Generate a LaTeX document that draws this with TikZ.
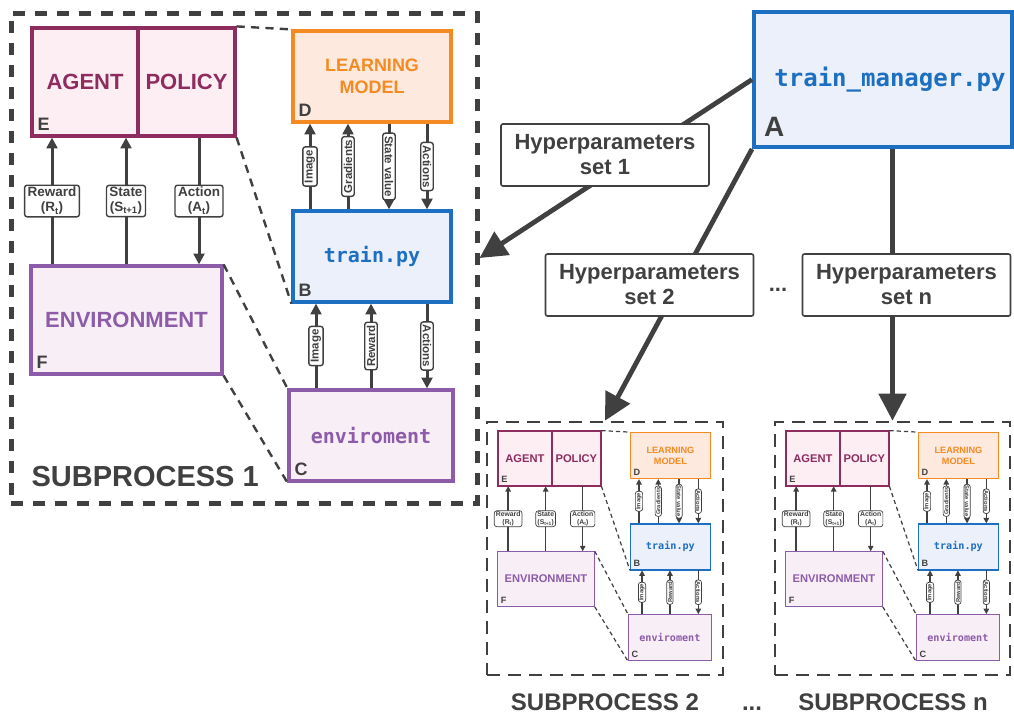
\documentclass[tikz,border=0pt]{standalone}
\usepackage{fontspec}
\setmainfont{Liberation Sans}
\setmonofont{DejaVu Sans Mono}
\usetikzlibrary{arrows.meta}

\definecolor{agentc}{HTML}{8E2B5F}
\definecolor{agentf}{HTML}{FCEEF3}
\definecolor{modelc}{HTML}{F38A22}
\definecolor{modelf}{HTML}{FDE9DD}
\definecolor{trainc}{HTML}{1D6FC1}
\definecolor{trainf}{HTML}{EBF0FB}
\definecolor{envc}{HTML}{8D5CA9}
\definecolor{envf}{HTML}{F8EEF6}
\definecolor{inkc}{HTML}{404040}

% line scale of one subprocess copy
\def\sw{1}

\tikzset{
  agentbox/.style={draw=agentc, fill=agentf, line width=3.2pt*\sw, text=agentc, font=\bfseries\fontsize{22}{26}\selectfont},
  modelbox/.style={draw=modelc, fill=modelf, line width=3.2pt*\sw, text=modelc, align=center, font=\bfseries\fontsize{18}{22}\selectfont},
  trainbox/.style={draw=trainc, fill=trainf, line width=3.2pt*\sw, text=trainc, font=\ttfamily\bfseries\fontsize{20}{24}\selectfont},
  envbox/.style={draw=envc, fill=envf, line width=3.2pt*\sw, text=envc, font=\bfseries\fontsize{22}{26}\selectfont},
  envcode/.style={envbox, font=\ttfamily\bfseries\fontsize{20}{24}\selectfont},
  lettr/.style={anchor=south west, inner sep=7pt, text=inkc, font=\bfseries\fontsize{18}{18}\selectfont},
  tag/.style={draw=inkc, fill=white, line width=1.4pt*\sw, rounded corners=2.5pt, inner xsep=3pt, inner ysep=2pt, align=center, text=inkc, font=\bfseries\fontsize{11.5}{13}\selectfont},
  tagbig/.style={tag, font=\bfseries\fontsize{13.5}{15}\selectfont},
  flow/.style={inkc, line width=3pt*\sw, -{Triangle[length=0pt 3.6,width=0pt 3.6]}},
  zoomline/.style={inkc, line width=2.4pt*\sw, dash pattern=on 3.4\pgflinewidth off 2.6\pgflinewidth},
  procframe/.style={draw=inkc, line width=5pt, dash pattern=on 12pt off 10pt},
  subframe/.style={procframe, line width=2.6pt, dash pattern=on 13pt off 8pt},
  mainbox/.style={draw=trainc, fill=trainf, line width=4pt, text=trainc, font=\ttfamily\bfseries\fontsize{24}{28}\selectfont},
  hyperbox/.style={draw=inkc, fill=white, line width=1.6pt, rounded corners=2pt, align=center, text=inkc, minimum width=208pt, minimum height=62pt, font=\bfseries\fontsize{22}{25}\selectfont},
  bigflow/.style={inkc, line width=4.8pt, -{Triangle[length=27pt,width=27pt]}},
  title/.style={text=inkc, font=\bfseries\fontsize{24}{24}\selectfont},
}

% #1 name prefix, #2 x, #3 y, #4 scale
\newcommand\subproc[4]{%
  \begin{scope}[shift={(#2,#3)}, scale=#4, transform shape, name prefix=#1]
    \def\sw{#4}
    % boxes
    \node[agentbox, minimum width=106pt, minimum height=108pt] (E) at (85,82) {AGENT};
    \node[agentbox, minimum width=97pt, minimum height=108pt] (pol) at (186.5,82) {POLICY};
    \node[modelbox, minimum width=158pt, minimum height=91pt] (D) at (372,76.5) {LEARNING\\MODEL};
    \node[trainbox, minimum width=158pt, minimum height=91pt] (B) at (372,256.5) {train.py};
    \node[envbox, minimum width=191pt, minimum height=108pt] (F) at (126.5,320) {ENVIRONMENT};
    \node[envcode, minimum width=164pt, minimum height=91pt] (C) at (371,435.5) {enviroment};
    \node[lettr] (El) at (E.south west) {E};
    \node[lettr] (Dl) at (D.south west) {D};
    \node[lettr] (Bl) at (B.south west) {B};
    \node[lettr] (Fl) at (F.south west) {F};
    \node[lettr] (Cl) at (C.south west) {C};
    % where the connectors run
    \coordinate (x1) at (52,0);
    \coordinate (x2) at (126,0);
    \coordinate (x3) at (199,0);
    \coordinate (d1) at (310,0);
    \coordinate (d2) at (348,0);
    \coordinate (d3) at (389,0);
    \coordinate (d4) at (427,0);
    \coordinate (c1) at (316,0);
    \coordinate (c2) at (371,0);
    \coordinate (c3) at (427,0);
    % agent <-> environment
    \draw[flow] (F.north -| x1) -- node[tagbig] (tR) {Reward\\(R\textsubscript{t})} (E.south -| x1);
    \draw[flow] (F.north -| x2) -- node[tagbig] (tS) {State\\(S\textsubscript{t+1})} (E.south -| x2);
    \draw[flow] (pol.south -| x3) -- node[tagbig] (tA) {Action\\(A\textsubscript{t})} (F.north -| x3);
    % train.py <-> model
    \draw[flow] (B.north -| d1) -- node[tag, rotate=90] (tI) {Image} (D.south -| d1);
    \draw[flow] (B.north -| d2) -- node[tag, rotate=90] (tG) {Gradients} (D.south -| d2);
    \draw[flow] (D.south -| d3) -- node[tag, rotate=-90] (tV) {State value} (B.north -| d3);
    \draw[flow] (D.south -| d4) -- node[tag, rotate=-90] (tX) {Actions} (B.north -| d4);
    % train.py <-> enviroment
    \draw[flow] (C.north -| c1) -- node[tag, rotate=90] (tI2) {Image} (B.south -| c1);
    \draw[flow] (C.north -| c2) -- node[tag, rotate=90] (tW) {Reward} (B.south -| c2);
    \draw[flow] (B.south -| c3) -- node[tag, rotate=-90] (tX2) {Actions} (C.north -| c3);
    % zoom lines
    \draw[zoomline] (pol.north east) -- (D.north west);
    \draw[zoomline] (pol.south east) -- (B.south west);
    \draw[zoomline] (F.north east) -- (C.north west);
    \draw[zoomline] (F.south east) -- (C.south west);
  \end{scope}}

\begin{document}
\begin{tikzpicture}[x=1pt,y=-1pt]
		\useasboundingbox (0,0) rectangle (1014,716);
		
		%%%%% frames %%%%%
		\node[procframe, minimum width=466pt, minimum height=490pt] (S1) at (244,258) {};
		\node[subframe, minimum width=236pt, minimum height=253pt] (S2) at (605,548.5) {};
		\node[subframe, minimum width=235pt, minimum height=253pt] (Sn) at (892.5,548.5) {};
		
		\subproc{s1}{0}{0}{1}
		\subproc{s2}{481.8}{416.8}{0.507}
		\subproc{sn}{769.8}{416.8}{0.507}
		
		\node[title, font=\bfseries\fontsize{29}{29}\selectfont, anchor=base west] (T1) at (28,486) {SUBPROCESS 1};
		\node[title, anchor=base] (T2) at (605,710) {SUBPROCESS 2};
		\node[title, anchor=base] (Tn) at (893,710) {SUBPROCESS n};
		\node[title, anchor=base] (dots2) at (752,710) {...};
		
		%%%%% manager %%%%%
		\node[mainbox, minimum width=258pt, minimum height=135pt] (A) at (883,79.5) {\hspace*{14pt}train\_manager.py};
		\node[lettr, inner sep=12pt, font=\bfseries\fontsize{28}{28}\selectfont] (Al) at (A.south west) {A};
		
		\draw[bigflow] (A.west) -- (S1.east);
		\draw[bigflow] (A.south west) -- (S2.north);
		\draw[bigflow] (A.south -| Sn.north) -- (Sn.north);
		
		\node[hyperbox] (H1) at (605,155) {Hyperparameters\\set 1};
		\node[hyperbox] (H2) at (649.5,285) {Hyperparameters\\set 2};
		\node[hyperbox] (Hn) at (906.5,285) {Hyperparameters\\set n};
		\node[title, font=\bfseries\fontsize{22}{22}\selectfont] (dots1) at (778,290) {...};
		
	\end{tikzpicture}
\end{document}
